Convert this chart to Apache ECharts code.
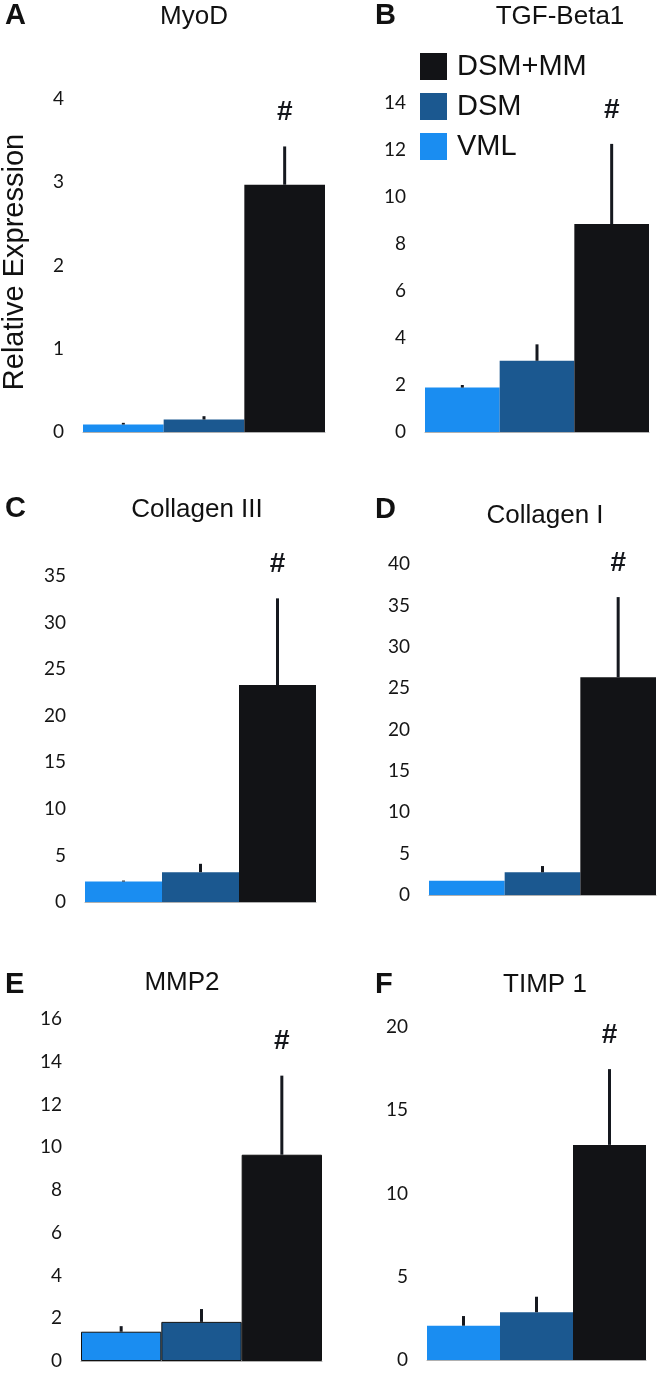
<!DOCTYPE html>
<html><head><meta charset="utf-8">
<script src="https://cdn.jsdelivr.net/npm/echarts@6/dist/echarts.min.js"></script>
<style>html,body{margin:0;padding:0;background:#fff}#c{width:660px;height:1373px}</style>
</head><body><div id="c"></div>
<script>
// ---- data ----
const categories = ['VML', 'DSM', 'DSM+MM'];
const panelTitles = ['MyoD', 'TGF-Beta1', 'Collagen III', 'Collagen I', 'MMP2', 'TIMP 1'];
const panelLetters = ['A', 'B', 'C', 'D', 'E', 'F'];
const vmlMean   = [0.09, 1.89, 2.2, 1.73, 1.37, 2.06];
const vmlErr    = [0.02, 0.11, 0.1, 0.0, 0.26, 0.58];
const dsmMean   = [0.15, 3.03, 3.2, 2.74, 1.83, 2.87];
const dsmErr    = [0.04, 0.70, 0.9, 0.76, 0.60, 0.93];
const dsmMmMean = [2.97, 8.85, 23.3, 26.3, 9.65, 12.92];
const dsmMmErr  = [0.46, 3.41, 9.3, 9.7, 3.70, 4.55];
const significance = ['#', '#', '#', '#', '#', '#'];
const yMax  = [4, 14, 35, 40, 16, 20];
const yStep = [1, 2, 5, 5, 2, 5];
const yAxisTitle = 'Relative Expression';

// ---- layout / style ----
const colors = ['#1a8df1', '#1b5890', '#121316'];
const gridBoxes = [
  {left: 83, top: 99, width: 242, height: 333},
  {left: 425, top: 103, width: 224, height: 329},
  {left: 85, top: 576, width: 231, height: 326},
  {left: 429, top: 564, width: 227, height: 331},
  {left: 81, top: 1019, width: 241, height: 342},
  {left: 427, top: 1027, width: 219, height: 333}
];
const titlePos  = [[194, 17], [560, 17], [197, 510], [545, 516], [182, 983], [545, 985]];
const letterPos = [[5, 16], [375, 16], [5, 509], [375, 510], [5, 985], [375, 985]];
const SANS = '"Liberation Sans", Arial, sans-serif';
const TICKFONT = 'Lato, "Open Sans", sans-serif';

const means = [vmlMean, dsmMean, dsmMmMean];
const errs = [vmlErr, dsmErr, dsmMmErr];

const chart = echarts.init(document.getElementById('c'), null, {renderer: 'canvas'});
const grid = [], xAxis = [], yAxis = [], series = [], graphic = [];

gridBoxes.forEach((g, i) => {
  grid.push(Object.assign({containLabel: false}, g));
  xAxis.push({
    type: 'category', gridIndex: i, data: categories,
    axisLine: {show: true, lineStyle: {color: '#b0b0b0', width: 1}},
    axisTick: {show: false}, axisLabel: {show: false}, splitLine: {show: false}
  });
  yAxis.push({
    type: 'value', gridIndex: i, min: 0, max: yMax[i], interval: yStep[i],
    axisLine: {show: false}, axisTick: {show: false}, splitLine: {show: false},
    axisLabel: {margin: 19, fontFamily: TICKFONT, fontSize: 19, color: '#151515'}
  });
  categories.forEach((name, k) => {
    const data = categories.map((c, j) => j === k ? means[k][i] : null);
    series.push({
      type: 'bar', name: name, xAxisIndex: i, yAxisIndex: i,
      data: data, barWidth: '100%', barGap: '-100%',
      itemStyle: i === 4
        ? {color: colors[k], borderColor: '#111', borderWidth: 1}
        : {color: colors[k]},
      emphasis: {disabled: true}, silent: true
    });
  });
  series.push({
    type: 'custom', xAxisIndex: i, yAxisIndex: i, z: 5, silent: true,
    data: categories.map((c, k) => [k, means[k][i], errs[k][i]]),
    encode: {x: 0, y: 1},
    renderItem: function (params, api) {
      const k = params.dataIndex;
      const m = means[k][i], e = errs[k][i];
      const p0 = api.coord([k, m]);
      const p1 = api.coord([k, m + e]);
      const children = [];
      if (e > 0) {
        children.push({
          type: 'line',
          shape: {x1: p0[0], y1: p0[1], x2: p1[0], y2: p1[1]},
          style: {stroke: '#15181f', lineWidth: 3}
        });
      }
      if (k === 2 && significance[i]) {
        children.push({
          type: 'text', x: p1[0], y: p1[1] - 34,
          style: {text: significance[i], font: 'bold 28px ' + SANS, fill: '#15171c',
                  align: 'center', verticalAlign: 'middle'}
        });
      }
      return {type: 'group', children: children};
    }
  });
  graphic.push({
    type: 'text', x: titlePos[i][0], y: titlePos[i][1], silent: true,
    style: {text: panelTitles[i], font: '26px ' + SANS, fill: '#111', align: 'center', verticalAlign: 'middle'}
  });
  graphic.push({
    type: 'text', x: letterPos[i][0], y: letterPos[i][1], silent: true,
    style: {text: panelLetters[i], font: 'bold 29px ' + SANS, fill: '#111', align: 'left', verticalAlign: 'middle'}
  });
});

graphic.push({
  type: 'text', x: 15, y: 262, rotation: Math.PI / 2, silent: true,
  style: {text: yAxisTitle, font: '29px ' + SANS, fill: '#111', align: 'center', verticalAlign: 'middle'}
});

chart.setOption({
  backgroundColor: '#fff',
  animation: false,
  grid: grid, xAxis: xAxis, yAxis: yAxis, series: series, graphic: graphic,
  legend: {
    data: ['DSM+MM', 'DSM', 'VML'], orient: 'vertical', left: 420, top: 52,
    padding: 0, itemWidth: 27, itemHeight: 27, itemGap: 11, icon: 'rect',
    selectedMode: false,
    textStyle: {fontFamily: SANS, fontSize: 29, color: '#111', lineHeight: 27, padding: [0, 0, 0, 5]}
  }
});
</script></body></html>
